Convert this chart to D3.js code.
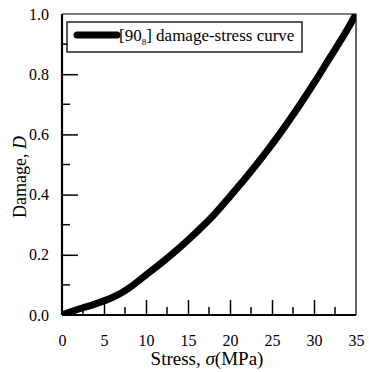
<!DOCTYPE html>
<html><head><meta charset="utf-8">
<script src="https://cdn.jsdelivr.net/npm/d3@7"></script>
<style>body{margin:0;background:#fff}svg{display:block}text{font-family:"Liberation Serif","Times New Roman",serif;fill:#000}</style>
</head><body><svg id="c" width="369" height="372"></svg>
<script>
const stress = [0,2,4,6,7,8,10,12,14,16,18,20,22,24,26,28,30,32,34,35];
const damage = [0,0.02,0.037,0.058,0.072,0.09,0.133,0.177,0.224,0.275,0.33,0.394,0.46,0.53,0.605,0.685,0.77,0.86,0.95,1.0];
const xTicks = [0,5,10,15,20,25,30,35];
const yTicks = [0,0.2,0.4,0.6,0.8,1.0];
const xMinor = [2.5,7.5,12.5,17.5,22.5,27.5,32.5];
const yMinor = [0.1,0.3,0.5,0.7,0.9];
const legendLabel = ["[90","8","] damage-stress curve"];

const svg = d3.select("#c");
const L=62,R=356,T=14,B=315;
const x = d3.scaleLinear().domain([0,35]).range([L,R]);
const y = d3.scaleLinear().domain([0,1]).range([B,T]);

svg.append("path").attr("d",`M${L},${T}H${R}V${B}`).attr("fill","none").attr("stroke","#000").attr("stroke-width",1.2);

const data = stress.map((s,i)=>[s,damage[i]]);
svg.append("clipPath").attr("id","cp").append("rect").attr("x",L).attr("y",T).attr("width",R-L).attr("height",B-T);
svg.append("path").datum(data).attr("clip-path","url(#cp)")
  .attr("d",d3.line().x(d=>x(d[0])).y(d=>y(d[1])).curve(d3.curveMonotoneX))
  .attr("fill","none").attr("stroke","#000").attr("stroke-width",7).attr("stroke-linecap","round");

const ax = svg.append("g").attr("transform",`translate(0,${B})`)
  .call(d3.axisBottom(x).tickValues(xTicks).tickSize(-15).tickPadding(20).tickFormat(d3.format("d")));
const ay = svg.append("g").attr("transform",`translate(${L},0)`)
  .call(d3.axisLeft(y).tickValues(yTicks).tickSize(-16).tickPadding(13).tickFormat(d3.format(".1f")));
[ax,ay].forEach(g=>{g.select(".domain").attr("stroke-width",2.2);g.selectAll(".tick line").attr("stroke-width",1.5);
  g.selectAll("text").style("font-family","'Liberation Serif',serif").style("font-size","16px");});
ax.select(".domain").attr("d",`M${L},0H${R}`);
ay.select(".domain").attr("d",`M0,${B}V${T}`);
ax.selectAll(".tick").filter(d=>d===0||d===35).select("line").remove();
ay.selectAll(".tick").filter(d=>d===0||d===1).select("line").remove();
svg.append("g").selectAll("line").data(xMinor).join("line")
  .attr("x1",d=>x(d)).attr("x2",d=>x(d)).attr("y1",B).attr("y2",B-8).attr("stroke","#000").attr("stroke-width",1.5);
svg.append("g").selectAll("line").data(yMinor).join("line")
  .attr("y1",d=>y(d)).attr("y2",d=>y(d)).attr("x1",L).attr("x2",L+8).attr("stroke","#000").attr("stroke-width",1.5);

svg.append("rect").attr("x",67).attr("y",22).attr("width",235).attr("height",30)
  .attr("fill","#fff").attr("stroke","#000").attr("stroke-width",1.3);
svg.append("line").attr("x1",77).attr("x2",117).attr("y1",35).attr("y2",35)
  .attr("stroke","#000").attr("stroke-width",7).attr("stroke-linecap","round");
const lt = svg.append("text").attr("x",119).attr("y",41).style("font-size","17px");
lt.append("tspan").text(legendLabel[0]);
lt.append("tspan").attr("dy",4).style("font-size","9px").text(legendLabel[1]);
lt.append("tspan").attr("dy",-4).text(legendLabel[2]);

const xt = svg.append("text").attr("x",207).attr("y",365).attr("text-anchor","middle").style("font-size","19px");
xt.append("tspan").text("Stress, ");
xt.append("tspan").style("font-style","italic").text("σ");
xt.append("tspan").text("(MPa)");
const yt = svg.append("text").attr("transform","translate(26,177) rotate(-90)").attr("text-anchor","middle").style("font-size","18px");
yt.append("tspan").text("Damage, ");
yt.append("tspan").style("font-style","italic").text("D");
</script></body></html>
